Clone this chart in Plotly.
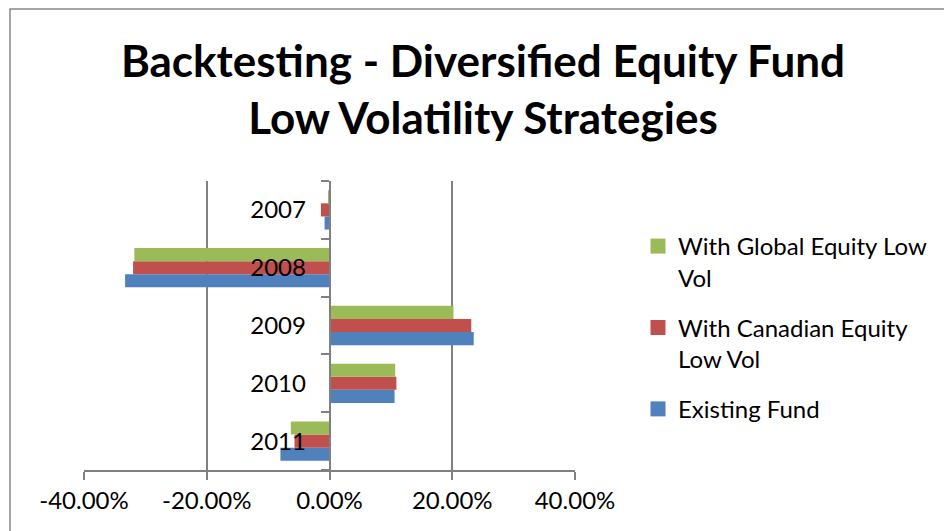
import plotly.graph_objects as go

years = ["2007", "2008", "2009", "2010", "2011"]
existing_fund = [-0.008, -0.333, 0.235, 0.106, -0.080]
canadian_low_vol = [-0.014, -0.320, 0.231, 0.109, -0.057]
global_low_vol = [-0.002, -0.318, 0.202, 0.107, -0.063]

series_names = ["Existing Fund", "With Canadian Equity<br>Low Vol", "With Global Equity Low<br>Vol"]
series_values = [existing_fund, canadian_low_vol, global_low_vol]
series_colors = ["#4F81BD", "#C0504D", "#9BBB59"]
legend_ranks = [3, 2, 1]

x_ticks = [-0.4, -0.2, 0.0, 0.2, 0.4]
x_tick_labels = ["-40.00%", "-20.00%", "0.00%", "20.00%", "40.00%"]

FONT = "Lato, Calibri, Carlito, sans-serif"

fig = go.Figure()
for i, (name, vals, col) in enumerate(zip(series_names, series_values, series_colors)):
    fig.add_trace(go.Bar(
        y=years, x=vals, name=name, orientation="h", legendgroup=f"g{i}",
        marker=dict(color=col, line=dict(width=0)), showlegend=False,
    ))
for i, (name, col, rk) in enumerate(zip(series_names, series_colors, legend_ranks)):
    fig.add_trace(go.Scatter(
        x=[None], y=[None], mode="markers", name=name, legendgroup=f"g{i}",
        legendrank=rk, marker=dict(symbol="square", size=15, color=col),
        showlegend=True, hoverinfo="skip",
    ))

W, H = 944, 531
L, R, T, B = 84, 575, 181, 470

fig.update_layout(
    width=W, height=H,
    margin=dict(l=L, r=W - R, t=T, b=H - B, pad=0),
    paper_bgcolor="white", plot_bgcolor="white",
    barmode="group", bargap=0.32, bargroupgap=0,
    font=dict(family=FONT, size=24, color="black"),
    title=dict(
        text="Backtesting - Diversified Equity Fund<br>Low Volatility Strategies",
        font=dict(family=FONT, size=44, color="black", weight="bold"),
        x=483 / W, xanchor="center", xref="container",
        y=1 - 77 / H, yanchor="top", yref="container",
    ),
    xaxis=dict(
        range=[-0.4, 0.4], tickvals=x_ticks, ticktext=x_tick_labels,
        showgrid=True, gridcolor="#808080", gridwidth=1.5,
        zeroline=False, showline=True, linecolor="#808080", linewidth=1.5,
        ticks="outside", ticklen=8, tickcolor="#808080", tickwidth=1.5,
        tickfont=dict(size=24, color="black"), fixedrange=True,
    ),
    yaxis=dict(
        type="category", categoryorder="array", categoryarray=years[::-1],
        anchor="free", position=0.5,
        showgrid=False, zeroline=False, showline=True, linecolor="#808080", linewidth=1.5,
        ticks="outside", ticklen=8, tickcolor="#808080", tickwidth=1.5,
        tickson="boundaries", ticklabelstandoff=18,
        tickfont=dict(size=24, color="black"), fixedrange=True,
    ),
    legend=dict(
        x=(638 - L) / (R - L), xanchor="left",
        y=(B - 224) / (B - T), yanchor="top",
        traceorder="grouped", tracegroupgap=16, valign="top",
        font=dict(size=24, color="black"),
        bgcolor="rgba(0,0,0,0)",
    ),
    showlegend=True,
)

fig.add_shape(
    type="rect", xref="paper", yref="paper",
    x0=(10 - L) / (R - L), x1=(960 - L) / (R - L),
    y0=(B - 560) / (B - T), y1=(B - 9) / (B - T),
    line=dict(color="#888888", width=1.5), fillcolor="rgba(0,0,0,0)", layer="below",
)

fig.write_html(
    "out.html",
    config={"displayModeBar": False},
    post_script="document.body.style.margin='0';document.body.style.padding='0';",
)
